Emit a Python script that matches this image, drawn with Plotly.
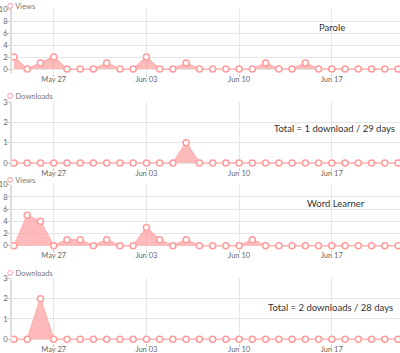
import plotly.graph_objects as go
import pandas as pd

dates = pd.date_range("2018-05-24", "2018-06-22", freq="D")
parole_views = [2, 0, 1, 2, 0, 0, 0, 1, 0, 0, 2, 0, 0, 1, 0, 0, 0, 0, 0, 1, 0, 0, 1, 0, 0, 0, 0, 0, 0, 0]
parole_downloads = [0, 0, 0, 0, 0, 0, 0, 0, 0, 0, 0, 0, 0, 1, 0, 0, 0, 0, 0, 0, 0, 0, 0, 0, 0, 0, 0, 0, 0, 0]
wl_views = [0, 5, 4, 0, 1, 1, 0, 1, 0, 0, 3, 1, 0, 1, 0, 0, 0, 0, 1, 0, 0, 0, 0, 0, 0, 0, 0, 0, 0, 0]
wl_downloads = [0, 0, 2, 0, 0, 0, 0, 0, 0, 0, 0, 0, 0, 0, 0, 0, 0, 0, 0, 0, 0, 0, 0, 0, 0, 0, 0, 0, 0, 0]

series = [
    ("Views", parole_views, 10, 2),
    ("Downloads", parole_downloads, 3, 1),
    ("Views", wl_views, 10, 2),
    ("Downloads", wl_downloads, 3, 1),
]
titles = [
    ("Parole", "center", 331.5, 28),
    ("Total = 1 download / 29 days", "right", 397, 128.3),
    ("Word Learner", "center", 336.3, 203.3),
    ("Total = 2 downloads / 28 days", "right", 394.5, 307.7),
]

W, H = 400, 353
L = 12
PW = W - L
# pixel (top, bottom) of each plot area
panels = [(9, 72.5), (102, 166.5), (184.7, 249.3), (278.3, 342.8)]
legend_y = [5, 95.3, 178.7, 271.7]

LINE = "#ffb3b3"
FILL = "rgba(255,150,150,0.65)"
MARK = "#ff9b9b"
FONT = "Lato"

fig = go.Figure()
xr = [dates[0] - pd.Timedelta(hours=3.6), dates[-1] + pd.Timedelta(hours=3.6)]

annotations = []
for i, (name, vals, ymax, dt) in enumerate(series):
    k = "" if i == 0 else str(i + 1)
    fig.add_trace(go.Scatter(
        x=dates, y=vals, name=name, mode="lines+markers",
        fill="tozeroy", fillcolor=FILL,
        line=dict(color=LINE, width=1.5),
        marker=dict(symbol="circle", size=6, color="white", line=dict(color=MARK, width=1.5)),
        xaxis="x" + k, yaxis="y" + k, showlegend=False, cliponaxis=False,
    ))
    top, bot = panels[i]
    zero_px = bot - 3.5
    unit = (zero_px - top) / ymax
    ymin = -(bot - zero_px) / unit
    dom = [1 - bot / H, 1 - top / H]
    fig.layout["xaxis" + k] = dict(
        domain=[0, 1], anchor="y" + k, type="date", range=xr,
        tick0="2018-05-27", dtick=7 * 86400000, tickformat="%b %d",
        showgrid=True, gridcolor="#e6e6e6", gridwidth=1,
        showline=False, zeroline=False,
        ticks="outside", ticklen=3, tickcolor="#cccccc",
        ticklabelstandoff=-4,
        tickfont=dict(family=FONT, size=7.5, color="#666666"),
        automargin=False,
    )
    fig.layout["yaxis" + k] = dict(
        domain=dom, anchor="x" + k, range=[ymin, ymax], dtick=dt, tick0=0,
        showgrid=True, gridcolor="#e6e6e6", gridwidth=1,
        showline=True, linecolor="#dddddd", linewidth=2,
        zeroline=False, ticks="outside", ticklen=3, tickcolor="#cccccc",
        ticklabelstandoff=-2,
        tickfont=dict(family=FONT, size=7.5, color="#666666"),
        automargin=False,
    )
    annotations.append(dict(
        xref="paper", yref="paper", x=(5 - L) / PW, y=1 - legend_y[i] / H,
        xanchor="left", yanchor="middle", showarrow=False,
        text='<span style="color:%s;font-size:10px">○</span> %s' % (MARK, name),
        font=dict(family=FONT, size=7.5, color="#777777"),
    ))

for text, anchor, px, py in titles:
    annotations.append(dict(
        xref="paper", yref="paper", x=(px - L) / PW, y=1 - py / H,
        xanchor=anchor, yanchor="middle", showarrow=False, text=text,
        font=dict(family=FONT, size=9.5, color="#333333"),
    ))

fig.update_layout(
    template="none", width=W, height=H,
    margin=dict(l=L, r=0, t=0, b=0),
    paper_bgcolor="white", plot_bgcolor="white",
    annotations=annotations, showlegend=False,
)
fig.write_html("out.html")
